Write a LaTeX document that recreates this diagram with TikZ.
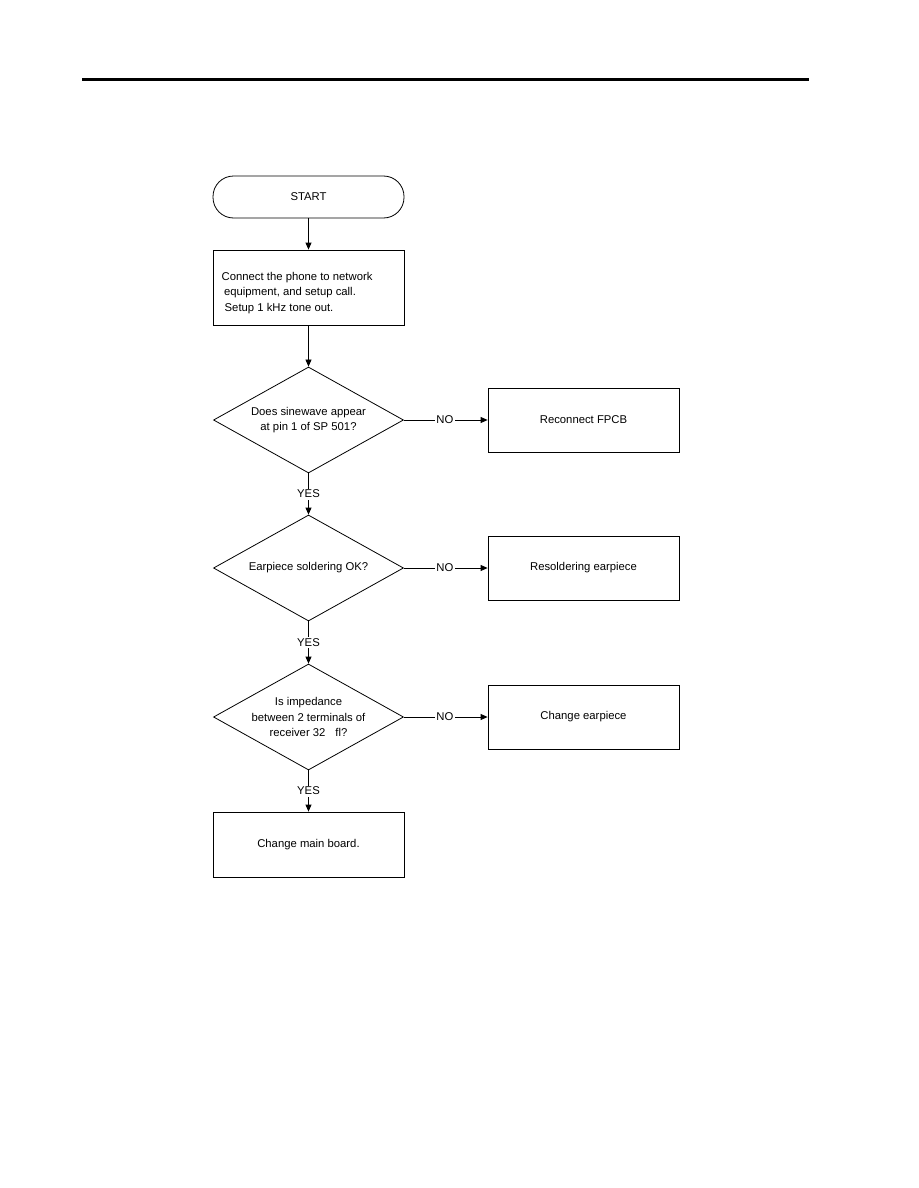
\documentclass[tikz,border=0pt]{standalone}
\usepackage{fontspec}
\setmainfont{Liberation Sans}
\usetikzlibrary{shapes.geometric,arrows.meta}
\begin{document}
\begin{tikzpicture}[x=1pt,y=-1pt,
  every node/.style={font=\fontsize{11.3}{15.5}\selectfont},
  box/.style={draw,line width=0.8pt,minimum width=191pt,minimum height=64pt,inner sep=0pt},
  dec/.style={draw,line width=0.8pt,diamond,aspect=1.79,minimum width=190pt,minimum height=106pt,inner sep=0pt},
  conn/.style={line width=0.8pt,-{Triangle[length=7pt,width=6pt]}},
  lbl/.style={fill=white,inner sep=1.5pt}]
\useasboundingbox (0,0) rectangle (918,1188);
\fill (82,78) rectangle (809,81.2);
\node[draw,line width=0.8pt,rounded corners=20.5pt,minimum width=191pt,minimum height=42pt,inner sep=0pt] (start) at (308.5,197) {START};
\node[box,minimum height=75pt] (conn) at (308.5,287.5) {};
\node[anchor=west,align=left,inner sep=0pt] (conntext) at (221.5,293) {Connect the phone to network\\\hspace{2.3pt}equipment, and setup call.\\\hspace{3pt}Setup 1 kHz tone out.};
\node[dec] (d1) at (308.5,420) {};
\node[align=center,inner sep=0pt] (d1t) at (308.5,420) {Does sinewave appear\\at pin 1 of SP 501?};
\node[box] (b1) at (583.5,420) {Reconnect FPCB};
\node[dec] (d2) at (308.5,568) {};
\node[align=center,inner sep=0pt] (d2t) at (308.5,568) {Earpiece soldering OK?};
\node[box] (b2) at (583.5,568) {Resoldering earpiece};
\node[dec] (d3) at (308.5,717) {};
\node[align=center,inner sep=0pt] (d3t) at (308.5,717) {Is impedance\\between 2 terminals of\\receiver 32\hspace{10pt}fl?};
\node[box] (b3) at (583.5,717) {Change earpiece};
\node[box,minimum height=65pt] (fin) at (308.5,844.5) {Change main board.};
\draw[conn] (start) -- (conn);
\draw[conn] (conn) -- (d1);
\draw[conn] (d1) -- node[lbl] (y1) {YES} (d2);
\draw[conn] (d2) -- node[lbl] (y2) {YES} (d3);
\draw[conn] (d3) -- node[lbl] (y3) {YES} (fin);
\draw[conn] (d1) -- node[lbl,pos=0.49] (n1) {NO} (b1);
\draw[conn] (d2) -- node[lbl,pos=0.49] (n2) {NO} (b2);
\draw[conn] (d3) -- node[lbl,pos=0.49] (n3) {NO} (b3);
\end{tikzpicture}
\end{document}
